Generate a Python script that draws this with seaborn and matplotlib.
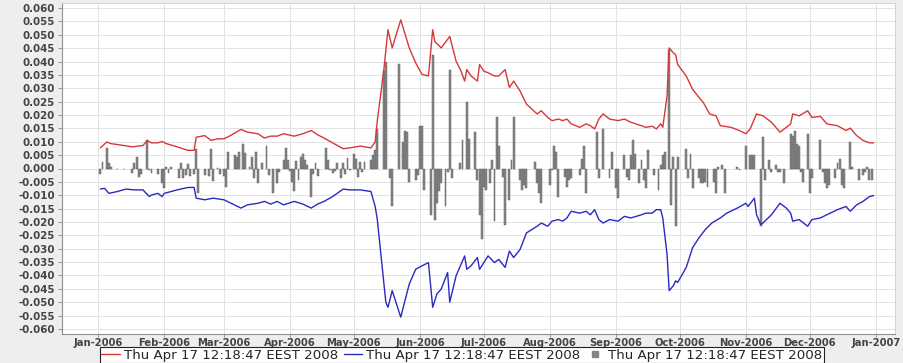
import numpy as np
import pandas as pd
import matplotlib
matplotlib.use("Agg")
import matplotlib.pyplot as plt
import matplotlib.dates as mdates
import matplotlib.ticker as mticker
from matplotlib.lines import Line2D
import seaborn as sns

sns.set_theme(style="white")
plt.rcParams["font.family"] = ["DejaVu Sans"]

# ---------------- data (days counted from 2006-01-01) ----------------
series_label = "Thu Apr 17 12:18:47 EEST 2008"

upper_day = [1, 4, 6, 12, 16, 21, 23, 25, 28, 30, 32, 37, 42, 45, 46, 50, 53, 56, 59, 62,
             67, 70, 75, 78, 81, 84, 87, 92, 96, 100, 103, 106, 110, 115, 118, 123, 128, 130, 131, 134,
             136, 138, 142, 146, 149, 152, 155, 157, 158, 161, 165, 168, 170, 172, 173, 175, 178, 179, 181, 183,
             186, 188, 191, 193, 195, 198, 201, 206, 208, 211, 213, 216, 218, 220, 222, 226, 229, 231, 233, 235,
             237, 240, 244, 247, 250, 255, 257, 260, 262, 264, 265, 267, 268, 270, 271, 272, 276, 279, 282, 284,
             287, 290, 292, 297, 301, 304, 306, 309, 312, 316, 320, 323, 325, 326, 329, 333, 335, 339, 342, 347,
             351, 353, 356, 359, 362, 364]
upper_val = [0.0077, 0.0099, 0.0093, 0.0086, 0.0081, 0.0086, 0.0105, 0.0096, 0.0096, 0.0101,
             0.0093, 0.0081, 0.0068, 0.0068, 0.0117, 0.0123, 0.0105, 0.0111, 0.0111, 0.0123,
             0.0146, 0.0136, 0.0130, 0.0114, 0.0121, 0.0121, 0.0130, 0.0121, 0.0130, 0.0142,
             0.0126, 0.0114, 0.0096, 0.0074, 0.0077, 0.0084, 0.0077, 0.0099, 0.0179, 0.0364,
             0.0519, 0.0451, 0.0556, 0.0451, 0.0395, 0.0352, 0.0346, 0.0519, 0.0475, 0.0451,
             0.0494, 0.0401, 0.0370, 0.0327, 0.0370, 0.0346, 0.0327, 0.0389, 0.0364, 0.0358,
             0.0346, 0.0346, 0.0370, 0.0303, 0.0327, 0.0290, 0.0241, 0.0204, 0.0216, 0.0191,
             0.0179, 0.0185, 0.0179, 0.0185, 0.0167, 0.0154, 0.0167, 0.0160, 0.0148, 0.0185,
             0.0204, 0.0185, 0.0179, 0.0185, 0.0173, 0.0160, 0.0154, 0.0158, 0.0148, 0.0167,
             0.0154, 0.0271, 0.0451, 0.0432, 0.0426, 0.0389, 0.0346, 0.0296, 0.0266, 0.0247,
             0.0204, 0.0197, 0.0160, 0.0154, 0.0142, 0.0130, 0.0148, 0.0204, 0.0197, 0.0173,
             0.0136, 0.0154, 0.0167, 0.0204, 0.0197, 0.0216, 0.0191, 0.0195, 0.0167, 0.0160,
             0.0142, 0.0151, 0.0123, 0.0105, 0.0096, 0.0096]

lower_day = [1, 3, 5, 9, 13, 17, 21, 24, 25, 28, 30, 31, 37, 42, 45, 46, 50, 54, 59, 67,
             70, 75, 78, 81, 84, 87, 92, 96, 100, 103, 106, 110, 115, 118, 123, 128, 130, 131, 135, 136,
             138, 142, 146, 149, 152, 155, 157, 159, 161, 164, 165, 168, 170, 172, 173, 175, 178, 179, 181, 183,
             186, 188, 191, 193, 195, 198, 201, 206, 208, 211, 213, 216, 218, 220, 222, 226, 229, 231, 233, 235,
             237, 240, 244, 247, 250, 255, 257, 260, 262, 264, 265, 267, 268, 270, 271, 272, 276, 279, 282, 285,
             288, 292, 295, 300, 304, 305, 308, 309, 311, 312, 316, 320, 323, 325, 326, 329, 333, 335, 339, 342,
             347, 351, 353, 356, 359, 362, 364]
lower_val = [-0.0077, -0.0074, -0.0093, -0.0086, -0.0077, -0.0080, -0.0080, -0.0105, -0.0099, -0.0093,
             -0.0105, -0.0093, -0.0080, -0.0071, -0.0071, -0.0111, -0.0117, -0.0111, -0.0117, -0.0148,
             -0.0136, -0.0130, -0.0123, -0.0133, -0.0123, -0.0136, -0.0123, -0.0133, -0.0148, -0.0133,
             -0.0123, -0.0105, -0.0077, -0.0080, -0.0080, -0.0086, -0.0142, -0.0191, -0.0500, -0.0519,
             -0.0457, -0.0556, -0.0432, -0.0377, -0.0364, -0.0352, -0.0519, -0.0469, -0.0451, -0.0389,
             -0.0500, -0.0401, -0.0364, -0.0327, -0.0377, -0.0364, -0.0333, -0.0377, -0.0352, -0.0327,
             -0.0352, -0.0340, -0.0370, -0.0309, -0.0333, -0.0303, -0.0241, -0.0216, -0.0204, -0.0216,
             -0.0197, -0.0191, -0.0197, -0.0185, -0.0160, -0.0167, -0.0160, -0.0173, -0.0154, -0.0191,
             -0.0204, -0.0191, -0.0197, -0.0179, -0.0185, -0.0173, -0.0167, -0.0167, -0.0154, -0.0154,
             -0.0185, -0.0321, -0.0457, -0.0438, -0.0420, -0.0426, -0.0370, -0.0296, -0.0259, -0.0228,
             -0.0204, -0.0185, -0.0167, -0.0148, -0.0130, -0.0142, -0.0111, -0.0173, -0.0210, -0.0204,
             -0.0173, -0.0130, -0.0148, -0.0167, -0.0197, -0.0191, -0.0216, -0.0191, -0.0185, -0.0173,
             -0.0154, -0.0142, -0.0160, -0.0136, -0.0123, -0.0105, -0.0101]

bar_day = [1, 2, 4, 5, 6, 9, 12, 16, 17, 18, 19, 20, 23, 24, 25, 28, 30, 31, 32, 33,
           34, 38, 39, 40, 41, 42, 43, 45, 46, 47, 50, 52, 53, 54, 56, 57, 59, 60, 61, 64,
           65, 66, 68, 69, 71, 72, 73, 74, 75, 77, 79, 80, 82, 84, 85, 87, 88, 89, 90, 91,
           92, 93, 94, 95, 96, 97, 98, 100, 101, 102, 103, 107, 108, 109, 110, 111, 112, 114, 115, 116,
           117, 118, 120, 121, 122, 123, 124, 125, 128, 129, 130, 131, 134, 135, 137, 138, 141, 143, 144, 145,
           146, 149, 150, 151, 152, 153, 156, 157, 158, 159, 160, 161, 163, 164, 165, 166, 170, 171, 173, 174,
           177, 178, 179, 180, 181, 182, 184, 185, 186, 187, 188, 190, 191, 193, 194, 195, 198, 199, 200, 201,
           205, 206, 207, 208, 212, 213, 214, 215, 216, 219, 220, 221, 222, 226, 227, 228, 229, 234, 235, 237,
           240, 241, 243, 244, 247, 248, 249, 250, 251, 252, 254, 255, 256, 257, 258, 261, 263, 264, 265, 266,
           268, 269, 270, 271, 272, 276, 277, 278, 279, 282, 283, 284, 285, 286, 289, 290, 291, 293, 294, 300,
           301, 304, 306, 307, 308, 311, 312, 313, 315, 316, 318, 319, 320, 322, 325, 326, 327, 328, 329, 330,
           331, 333, 334, 335, 339, 340, 341, 342, 343, 346, 347, 348, 349, 350, 353, 354, 357, 359, 360, 361,
           362, 363]
bar_val = [-0.0019, 0.0025, 0.0077, 0.0019, 0.0006, -0.0002, -0.0002, -0.0015, 0.0019, 0.0043,
           -0.0031, -0.0022, 0.0105, -0.0006, -0.0015, -0.0019, -0.0056, -0.0072, 0.0006, -0.0015,
           0.0006, -0.0037, 0.0019, -0.0037, -0.0025, 0.0015, -0.0027, -0.0019, 0.0074, -0.0093,
           -0.0025, -0.0027, 0.0074, -0.0047, 0.0003, -0.0022, -0.0027, -0.0068, 0.0062, 0.0049,
           0.0043, 0.0062, 0.0093, 0.0059, 0.0006, 0.0043, -0.0035, 0.0062, -0.0056, 0.0019,
           0.0086, -0.0025, -0.0093, -0.0056, -0.0012, 0.0031, 0.0077, 0.0031, -0.0010, -0.0049,
           -0.0086, 0.0027, -0.0043, 0.0043, 0.0056, 0.0031, 0.0012, -0.0105, -0.0022, 0.0019,
           -0.0027, 0.0077, 0.0031, -0.0006, -0.0015, -0.0010, 0.0019, -0.0035, 0.0019, -0.0022,
           0.0040, -0.0006, 0.0056, 0.0037, -0.0031, 0.0025, -0.0012, 0.0025, 0.0031, 0.0049,
           0.0068, 0.0148, 0.0364, 0.0400, -0.0037, -0.0142, 0.0389, 0.0099, 0.0142, 0.0136,
           -0.0049, -0.0043, -0.0025, 0.0160, 0.0160, -0.0080, -0.0173, 0.0426, -0.0191, -0.0130,
           -0.0086, -0.0056, -0.0142, -0.0012, 0.0370, -0.0037, 0.0019, 0.0105, 0.0247, 0.0111,
           0.0136, -0.0043, -0.0173, -0.0265, -0.0068, -0.0080, -0.0056, 0.0031, -0.0198, 0.0191,
           0.0086, -0.0031, -0.0210, -0.0117, 0.0031, 0.0191, -0.0043, -0.0080, -0.0062, -0.0074,
           0.0025, -0.0056, -0.0093, -0.0130, -0.0062, -0.0006, 0.0086, 0.0062, -0.0105, -0.0031,
           -0.0068, -0.0043, -0.0037, -0.0025, 0.0037, 0.0086, -0.0093, 0.0136, -0.0037, 0.0148,
           -0.0037, 0.0062, -0.0074, -0.0111, 0.0049, -0.0031, -0.0043, 0.0049, 0.0105, 0.0056,
           -0.0056, 0.0031, -0.0043, -0.0074, 0.0068, -0.0025, -0.0080, 0.0012, 0.0049, 0.0062,
           0.0444, -0.0136, 0.0043, -0.0216, 0.0043, 0.0074, -0.0037, 0.0056, -0.0074, -0.0037,
           -0.0056, -0.0056, -0.0049, -0.0068, -0.0049, -0.0093, 0.0006, 0.0012, -0.0093, 0.0006,
           -0.0006, 0.0086, 0.0049, 0.0049, 0.0049, -0.0216, 0.0117, -0.0043, 0.0031, -0.0012,
           0.0012, -0.0012, -0.0012, -0.0056, 0.0130, 0.0123, 0.0142, 0.0093, 0.0086, -0.0012,
           -0.0049, 0.0130, -0.0093, -0.0037, 0.0105, -0.0012, -0.0056, -0.0074, -0.0062, -0.0037,
           0.0019, 0.0037, -0.0062, -0.0074, 0.0099, 0.0006, -0.0043, -0.0025, -0.0012, 0.0006,
           -0.0043, -0.0043]

month_labels = ["Jan-2006", "Feb-2006", "Mar-2006", "Apr-2006", "May-2006", "Jun-2006", "Jul-2006",
                "Aug-2006", "Sep-2006", "Oct-2006", "Nov-2006", "Dec-2006", "Jan-2007"]

# ---------------- helpers ----------------
start = pd.Timestamp("2006-01-01")


def to_num(days):
    return mdates.date2num(start + pd.to_timedelta(np.asarray(days, dtype=float), unit="D"))


RED = "#d6383a"
BLUE = "#2a2ac2"
GRAY = "#858585"

fig = plt.figure(figsize=(9.04, 3.63), dpi=100, facecolor="#eeeeee")
ax = fig.add_axes([62 / 904, 1 - 334 / 363, (895 - 62) / 904, (334 - 3) / 363])
ax.set_facecolor("white")

ax.bar(to_num(bar_day), bar_val, width=0.9, color=GRAY, edgecolor="#666666",
       linewidth=0.35, zorder=2)
sns.lineplot(x=to_num(upper_day), y=upper_val, ax=ax, color=RED, linewidth=1.0, zorder=3)
sns.lineplot(x=to_num(lower_day), y=lower_val, ax=ax, color=BLUE, linewidth=1.0, zorder=3)

# axes ranges
ax.set_xlim(to_num([-17])[0], to_num([374])[0])
ax.set_ylim(-0.0619, 0.0619)

month_pos = mdates.date2num(pd.date_range("2006-01-01", "2007-01-01", freq="MS"))
ax.xaxis.set_major_locator(mticker.FixedLocator(month_pos))
ax.xaxis.set_major_formatter(mticker.FixedFormatter(month_labels))
ax.yaxis.set_major_locator(mticker.MultipleLocator(0.005))


def yfmt(v, _):
    s = f"{v:.3f}"
    if s == "-0.000":
        s = "0.000"
    return s


ax.yaxis.set_major_formatter(mticker.FuncFormatter(yfmt))

ax.grid(True, color="#e2e2e2", linewidth=0.7, zorder=0)
ax.set_axisbelow(True)
ax.tick_params(axis="y", which="major", length=3, width=0.6, color="#888888",
               labelsize=7.4, labelcolor="#444444", pad=2, direction="out", left=True)
ax.tick_params(axis="x", which="major", length=2, width=0.6, color="#888888",
               labelsize=7.2, labelcolor="#444444", pad=1, direction="out", bottom=True)
for lab in ax.get_xticklabels() + ax.get_yticklabels():
    lab.set_fontweight("bold")

for side in ["top", "right"]:
    ax.spines[side].set_color("#cfcfcf")
    ax.spines[side].set_linewidth(0.6)
for side in ["left", "bottom"]:
    ax.spines[side].set_color("#8f8f8f")
    ax.spines[side].set_linewidth(0.8)

ax.set_xlabel("")
ax.set_ylabel("")

handles = [
    Line2D([], [], color=RED, linewidth=1.0),
    Line2D([], [], color=BLUE, linewidth=1.0),
    Line2D([], [], color=GRAY, marker="s", markersize=5, linestyle="none"),
]
leg = fig.legend(handles, [series_label] * 3, loc="center",
                 bbox_to_anchor=(462 / 904, 1 - 355 / 363), ncol=3, fontsize=9.6,
                 frameon=True, fancybox=False, edgecolor="#222222", framealpha=1,
                 handlelength=1.4, handletextpad=0.3, columnspacing=0.4,
                 borderpad=0.08, borderaxespad=0)
leg.get_frame().set_linewidth(0.8)
leg.get_frame().set_facecolor("white")

fig.savefig("out.png", dpi=100, facecolor=fig.get_facecolor())
